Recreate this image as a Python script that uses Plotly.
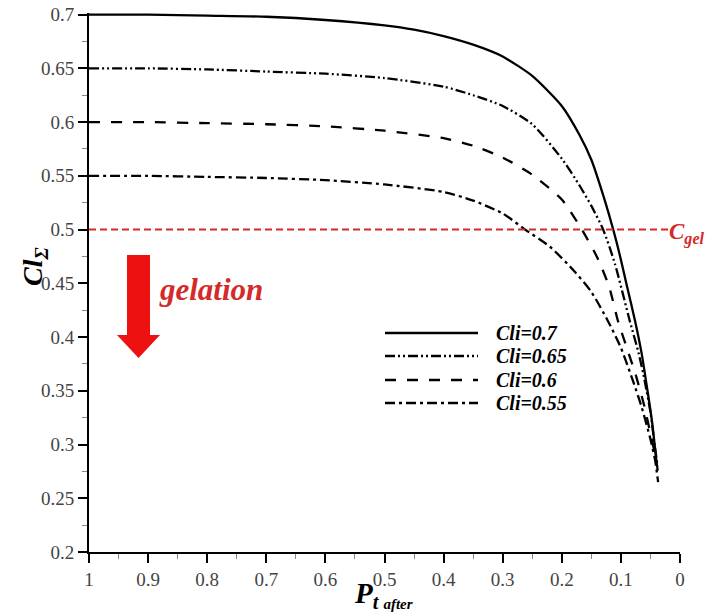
import plotly.graph_objects as go

# ---- data ----
series_names = ["Cli=0.7", "Cli=0.65", "Cli=0.6", "Cli=0.55"]

pt_07 = [1.0, 0.9, 0.8, 0.7, 0.6, 0.5, 0.45, 0.4, 0.35, 0.3, 0.25, 0.2, 0.17, 0.15, 0.13, 0.113, 0.1, 0.09, 0.076, 0.065, 0.055, 0.047, 0.042, 0.039]
cl_07 = [0.700, 0.700, 0.699, 0.698, 0.695, 0.690, 0.686, 0.680, 0.672, 0.661, 0.643, 0.615, 0.588, 0.565, 0.532, 0.500, 0.472, 0.448, 0.415, 0.385, 0.350, 0.320, 0.295, 0.280]

pt_065 = [1.0, 0.9, 0.8, 0.7, 0.6, 0.5, 0.4, 0.35, 0.3, 0.25, 0.2, 0.17, 0.15, 0.13, 0.11, 0.085, 0.07, 0.06, 0.05, 0.043, 0.038]
cl_065 = [0.650, 0.650, 0.649, 0.647, 0.645, 0.641, 0.633, 0.625, 0.615, 0.598, 0.566, 0.541, 0.522, 0.500, 0.468, 0.415, 0.385, 0.360, 0.330, 0.300, 0.280]

pt_06 = [1.0, 0.9, 0.8, 0.7, 0.6, 0.5, 0.4, 0.35, 0.3, 0.25, 0.2, 0.166, 0.14, 0.12, 0.105, 0.09, 0.075, 0.06, 0.05, 0.04, 0.037]
cl_06 = [0.600, 0.600, 0.599, 0.598, 0.596, 0.592, 0.585, 0.578, 0.567, 0.551, 0.528, 0.500, 0.474, 0.447, 0.415, 0.390, 0.365, 0.335, 0.310, 0.285, 0.272]

pt_055 = [1.0, 0.9, 0.8, 0.7, 0.6, 0.5, 0.4, 0.35, 0.3, 0.262, 0.22, 0.18, 0.15, 0.122, 0.1, 0.08, 0.065, 0.05, 0.042, 0.037]
cl_055 = [0.550, 0.550, 0.549, 0.548, 0.546, 0.542, 0.535, 0.527, 0.515, 0.500, 0.484, 0.462, 0.442, 0.415, 0.390, 0.360, 0.335, 0.305, 0.285, 0.265]

C_GEL = 0.5
x_ticks = [1.0, 0.9, 0.8, 0.7, 0.6, 0.5, 0.4, 0.3, 0.2, 0.1, 0.0]
x_tick_labels = ["1", "0.9", "0.8", "0.7", "0.6", "0.5", "0.4", "0.3", "0.2", "0.1", "0"]
y_ticks = [0.2, 0.25, 0.3, 0.35, 0.4, 0.45, 0.5, 0.55, 0.6, 0.65, 0.7]
y_tick_labels = ["0.2", "0.25", "0.3", "0.35", "0.4", "0.45", "0.5", "0.55", "0.6", "0.65", "0.7"]

xs = [pt_07, pt_065, pt_06, pt_055]
ys = [cl_07, cl_065, cl_06, cl_055]
dashes = ["solid", "10px,3px,2px,3px,2px,3px", "11px,11px", "10px,4px,3px,4px"]

# page body has an 8px margin; compensate so the plot lands where the reference has it
OFF = 8
W, H = 714 - OFF, 614 - OFF
# screen-space plot box in the reference
SX0, SX1, SY0, SY1 = 89, 680, 13, 552
L, T = SX0 - OFF, SY0 - OFF
R, B = W - (SX1 - OFF), H - (SY1 - OFF)
PW, PH = SX1 - SX0, SY1 - SY0

def px(xs_):
    return (xs_ - SX0) / PW

def py(ys_):
    return (SY1 - ys_) / PH

fig = go.Figure()
for x, y, d, n in zip(xs, ys, dashes, series_names):
    fig.add_trace(go.Scatter(x=x, y=y, mode="lines", name=n,
                             line=dict(color="black", width=2.3, dash=d,
                                       shape="spline", smoothing=0.6),
                             showlegend=False))

shapes = []
# C_gel line
shapes.append(dict(type="line", xref="x", yref="y", x0=1.0, x1=0.017, y0=C_GEL, y1=C_GEL,
                   line=dict(color="#d42a2a", width=2, dash="7px,4px")))
# gelation arrow (red)
shapes.append(dict(type="path", xref="paper", yref="paper",
                   path=("M {a},{t} L {b},{t} L {b},{s} L {c},{s} L {m},{tip} L {d},{s} L {a},{s} Z").format(
                       a=px(127), b=px(150), c=px(160), d=px(117), m=px(138.5),
                       t=py(255), s=py(335), tip=py(358)),
                   fillcolor="#ee1111", line=dict(width=0)))
# legend samples
leg_rows = [333, 356, 380, 403]
annotations = []
for n, d, r in zip(series_names, dashes, leg_rows):
    shapes.append(dict(type="line", xref="paper", yref="paper", x0=px(385), x1=px(478),
                       y0=py(r), y1=py(r), line=dict(color="black", width=2.3, dash=d)))
    annotations.append(dict(xref="paper", yref="paper", x=px(494), y=py(r), text="<b><i>%s</i></b>" % n,
                            showarrow=False, xanchor="left", yanchor="middle",
                            font=dict(family="Liberation Serif", size=20, color="black")))

annotations += [
    dict(xref="paper", yref="paper", x=px(157), y=py(289), text="<b><i>gelation</i></b>",
         showarrow=False, xanchor="left", yanchor="middle",
         font=dict(family="Liberation Serif", size=31, color="#d42a2a")),
    dict(xref="paper", yref="paper", x=px(667), y=py(233),
         text="<b><i>C<sub>gel</sub></i></b>", showarrow=False, xanchor="left", yanchor="middle",
         font=dict(family="Liberation Serif", size=23, color="#d42a2a")),
    dict(xref="paper", yref="paper", x=px(34), y=py(266), text="<b><i>Cl<sub>Σ</sub></i></b>",
         textangle=-90, showarrow=False, xanchor="center", yanchor="middle",
         font=dict(family="Liberation Serif", size=28, color="black")),
    dict(xref="paper", yref="paper", x=px(352), y=py(595),
         text="<b><i>P<sub>t <span style='font-size:15px'>after</span></sub></i></b>",
         showarrow=False, xanchor="left", yanchor="middle",
         font=dict(family="Liberation Serif", size=29, color="black")),
]

fig.update_layout(
    width=W, height=H, margin=dict(l=L, r=R, t=T, b=B, autoexpand=False),
    paper_bgcolor="white", plot_bgcolor="white",
    shapes=shapes, annotations=annotations, showlegend=False,
    xaxis=dict(range=[1.0, 0.0], tickvals=x_ticks, ticktext=x_tick_labels, automargin=False,
               showgrid=False, zeroline=False, showline=True, linecolor="black", linewidth=2,
               ticks="outside", ticklen=9, tickwidth=1.5, tickcolor="black",
               ticklabeloverflow="allow",
               minor=dict(tickvals=[0.95, 0.85, 0.75, 0.65, 0.55, 0.45, 0.35, 0.25, 0.15, 0.05],
                          ticks="outside", ticklen=5, tickcolor="#888", tickwidth=1),
               tickfont=dict(family="Liberation Serif", size=19, color="#444")),
    yaxis=dict(range=[0.2, 0.7015], tickvals=y_ticks, ticktext=y_tick_labels, automargin=False,
               showgrid=False, zeroline=False, showline=True, linecolor="black", linewidth=2,
               ticks="outside", ticklen=9, tickwidth=1.5, tickcolor="black",
               ticklabeloverflow="allow",
               minor=dict(dtick=0.025, ticks="outside", ticklen=5, tickcolor="#888", tickwidth=1),
               tickfont=dict(family="Liberation Serif", size=19, color="#444")),
)

fig.write_html("out.html")
